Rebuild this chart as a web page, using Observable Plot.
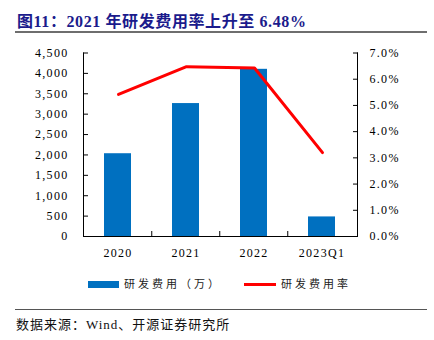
<!DOCTYPE html>
<html>
<head>
<meta charset="utf-8">
<script src="https://cdn.jsdelivr.net/npm/d3@7"></script>
<script src="https://cdn.jsdelivr.net/npm/@observablehq/plot@0.6"></script>
<style>
  body { margin: 0; background: #fff; }
  #wrap { position: relative; width: 434px; height: 340px; overflow: hidden; background: #fff;
          font-family: "Liberation Serif", "Noto Sans CJK SC", serif; }
  #title { position: absolute; left: 17px; top: 8px; font-size: 16px; font-weight: bold; color: #1b1b8c; white-space: nowrap; letter-spacing: 0.6px; }
  #rule1 { position: absolute; left: 15px; top: 31px; width: 412px; height: 2px; background: #6e6e6e; }
  #rule2 { position: absolute; left: 15px; top: 309px; width: 412px; height: 1px; background: #555; }
  #source { position: absolute; left: 16px; top: 314px; font-size: 13px; color: #111; white-space: nowrap; letter-spacing: 1px; }
  .chart { position: absolute; left: 0; top: 40px; }
  #legend { position: absolute; left: 0; top: 276px; width: 434px; height: 18px; font-size: 11px; color: #222; }
  .lg { position: absolute; top: 0; white-space: nowrap; letter-spacing: 3px; line-height: 16px; }
  .sw-bar { position: absolute; left: 88px; top: 5px; width: 31px; height: 7px; background: #0070C0; }
  .sw-line { position: absolute; left: 244px; top: 7px; width: 32px; height: 3px; background: #FF0000; }
</style>
</head>
<body>
<div id="wrap">
  <div id="title">图11：2021 年研发费用率上升至 6.48%</div>
  <div id="rule1"></div>
  <div id="legend">
    <div class="sw-bar"></div><div class="lg" style="left:124px">研发费用（万）</div>
    <div class="sw-line"></div><div class="lg" style="left:281px">研发费用率</div>
  </div>
  <div id="rule2"></div>
  <div id="source">数据来源：Wind、开源证券研究所</div>
</div>
<script>
// ---- data ----
const categories = ["2020", "2021", "2022", "2023Q1"];
const rdExpense = [2030, 3260, 4100, 480];        // 研发费用（万）
const rdRate = [5.42, 6.48, 6.43, 3.20];          // 研发费用率 (%)
const leftTicks = [0, 500, 1000, 1500, 2000, 2500, 3000, 3500, 4000, 4500];
const rightTicks = [0, 1, 2, 3, 4, 5, 6, 7];

const W = 434, H = 230, mL = 83, mR = 77, mT = 12.5, mB = 34;
const bars = categories.map((c, i) => ({cat: c, value: rdExpense[i]}));
const rates = categories.map((c, i) => ({cat: c, rate: rdRate[i]}));
const step = (W - mL - mR) / categories.length;
const font = {fontFamily: "'Liberation Serif', 'Times New Roman', serif", fontSize: "12px", letterSpacing: "1.3px", color: "#000", background: "transparent", overflow: "visible"};
const xScale = {domain: categories, paddingInner: 0.6, paddingOuter: 0.3};
const tickLen = 5;

const p1 = Plot.plot({
  width: W, height: H, marginLeft: mL, marginRight: mR, marginTop: mT, marginBottom: mB,
  style: font,
  x: {...xScale, axis: null},
  y: {domain: [0, 4500], axis: null},
  marks: [
    Plot.barY(bars, {x: "cat", y: "value", fill: "#0070C0"}),
    Plot.axisY({ticks: leftTicks, tickFormat: d3.format(","), tickSize: -tickLen, tickPadding: 20, stroke: "#000", fill: "#000", label: null}),
    Plot.axisX({tickSize: 0, tickPadding: 12, fill: "#000", label: null}),
    Plot.ruleX(categories.slice(1), {x: d => d, dx: -step / 2, y1: 0, y2: 4500 * tickLen / (H - mT - mB), stroke: "#000"}),
    Plot.frame({anchor: "left", stroke: "#000"}),
    Plot.ruleY([0], {stroke: "#000"})
  ]
});
p1.classList.add("chart");

const p2 = Plot.plot({
  width: W, height: H, marginLeft: mL, marginRight: mR, marginTop: mT, marginBottom: mB,
  style: font,
  x: {...xScale, axis: null},
  y: {domain: [0, 7], axis: null},
  marks: [
    Plot.axisY({anchor: "right", ticks: rightTicks, tickFormat: d => d.toFixed(1) + "%", tickSize: -tickLen, tickPadding: 17, stroke: "#000", fill: "#000", label: null}),
    Plot.frame({anchor: "right", stroke: "#000"}),
    Plot.lineY(rates, {x: "cat", y: "rate", stroke: "#FF0000", strokeWidth: 3})
  ]
});
p2.classList.add("chart");

const wrap = document.getElementById("wrap");
wrap.appendChild(p1);
wrap.appendChild(p2);
</script>
</body>
</html>
